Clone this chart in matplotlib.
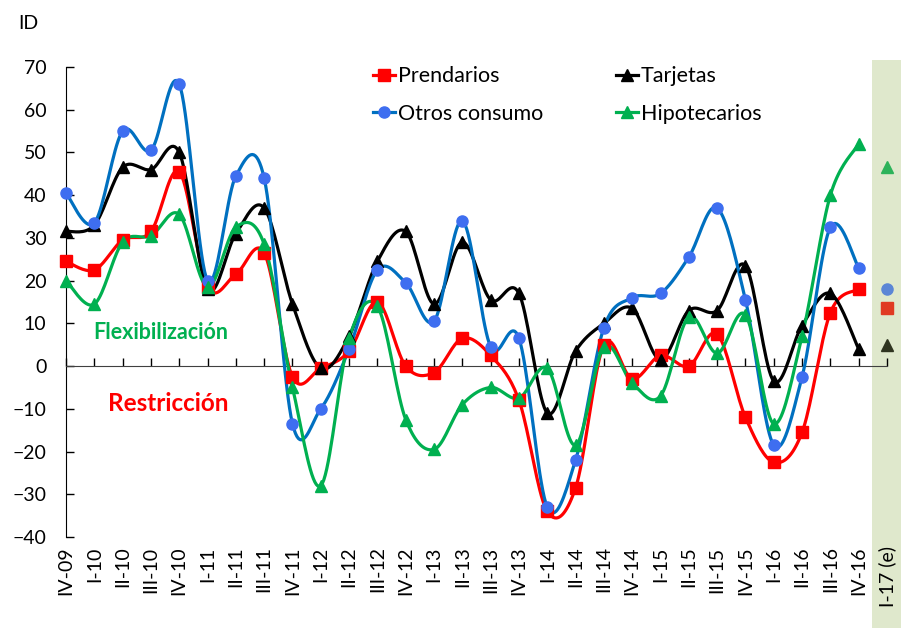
import numpy as np
import matplotlib
matplotlib.use("Agg")
import matplotlib.pyplot as plt
from matplotlib.transforms import blended_transform_factory

plt.rcParams['font.family'] = ['Lato', 'DejaVu Sans']

quarters = ['IV-09', 'I-10', 'II-10', 'III-10', 'IV-10', 'I-11', 'II-11', 'III-11',
            'IV-11', 'I-12', 'II-12', 'III-12', 'IV-12', 'I-13', 'II-13', 'III-13',
            'IV-13', 'I-14', 'II-14', 'III-14', 'IV-14', 'I-15', 'II-15', 'III-15',
            'IV-15', 'I-16', 'II-16', 'III-16', 'IV-16']
forecast_label = 'I-17 (e)'

prendarios = [24.5, 22.5, 29.5, 31.5, 45.5, 18.5, 21.5, 26.5, -2.5, -0.5,
              3.5, 15, 0, -1.5, 6.5, 2.5, -8, -34, -28.5, 5,
              -3, 2.5, 0, 7.5, -12, -22.5, -15.5, 12.5, 18]
tarjetas = [31.5, 33, 46.5, 46, 50, 18, 31, 37, 14.5, -0.5,
            7, 24.5, 31.5, 14.5, 29, 15.5, 17, -11, 3.5, 10,
            13.5, 1.5, 13, 13, 23.5, -3.5, 9.5, 17, 4]
otros = [40.5, 33.5, 55, 50.5, 66, 20, 44.5, 44, -13.5, -10,
         4, 22.5, 19.5, 10.5, 34, 4.5, 6.5, -33, -22, 9,
         16, 17, 25.5, 37, 15.5, -18.5, -2.5, 32.5, 23]
hipotecarios = [20, 14.5, 29, 30.5, 35.5, 18.5, 32.5, 28.5, -5, -28,
                6.5, 14, -12.5, -19.5, -9, -5, -7.5, -0.5, -18.5, 4.5,
                -4, -7, 11.5, 3, 12, -13.5, 7, 40, 52]

# I-17 estimates
est_prendarios = 13.5
est_tarjetas = 5
est_otros = 18
est_hipotecarios = 46.5


def smooth(y, n=20):
    # excel-like smoothed line (bezier, control points at 1/6 of neighbour diff)
    y = np.asarray(y, float)
    x = np.arange(len(y), dtype=float)
    pts = np.column_stack([x, y])
    ext = np.vstack([pts[0], pts, pts[-1]])
    out = []
    t = np.linspace(0, 1, n)[:, None]
    for i in range(len(pts) - 1):
        p0, p1, p2, p3 = ext[i], ext[i + 1], ext[i + 2], ext[i + 3]
        c1 = p1 + (p2 - p0) / 6
        c2 = p2 - (p3 - p1) / 6
        seg = ((1 - t) ** 3 * p1 + 3 * (1 - t) ** 2 * t * c1
               + 3 * (1 - t) * t ** 2 * c2 + t ** 3 * p2)
        out.append(seg if i == 0 else seg[1:])
    out = np.vstack(out)
    return out[:, 0], out[:, 1]


fig = plt.figure(figsize=(9.01, 6.28), dpi=100)
ax = fig.add_axes([66 / 901, 1 - 537 / 628, (887 - 66) / 901, (537 - 67) / 628])

n = len(quarters)   # index of the estimate quarter
ax.set_xlim(0, n)
ax.set_ylim(-40, 70)

# shaded band for the estimate quarter (runs past the axes down to the figure edge)
ax.axvspan(n - 0.53, n + 0.7, ymin=-0.2, ymax=(537 - 60) / 470, facecolor='#dfe8cc',
           edgecolor='none', clip_on=False, zorder=0)

series = [
    (prendarios, 'Prendarios', '#ff0000', '#ff0000', 's'),
    (tarjetas, 'Tarjetas', 'black', 'black', '^'),
    (otros, 'Otros consumo', '#0070c0', '#3e6ef0', 'o'),
    (hipotecarios, 'Hipotecarios', '#00b050', '#00b050', '^'),
]
x = np.arange(n)
handles = {}
for vals, name, lc, mc, mk in series:
    sx, sy = smooth(vals)
    ax.plot(sx, sy, color=lc, lw=2.3, zorder=3)
    ax.plot(x, vals, ls='none', marker=mk, color=mc, ms=8, zorder=4, clip_on=False)
    handles[name], = ax.plot([], [], color=lc, lw=2.3, marker=mk, mfc=mc, mec=mc,
                             ms=8, label=name)

ax.plot([n], [est_hipotecarios], marker='^', color='#2db35a', ms=8, clip_on=False, zorder=4)
ax.plot([n], [est_otros], marker='o', color='#5b86d6', ms=8, clip_on=False, zorder=4)
ax.plot([n], [est_prendarios], marker='s', color='#e03a22', ms=8, clip_on=False, zorder=4)
ax.plot([n], [est_tarjetas], marker='^', color='#2f3420', ms=8, clip_on=False, zorder=4)

ax.set_yticks(range(-40, 71, 10))
ax.set_xticks(range(n + 1))
ax.set_xticklabels([])
ax.tick_params(axis='y', direction='in', length=6, labelsize=14, pad=14, width=1)
ax.tick_params(axis='x', direction='in', length=6, width=1)
ax.spines['bottom'].set_position(('data', 0))
ax.spines['top'].set_visible(False)
ax.spines['right'].set_visible(False)
ax.spines['bottom'].set_color('#404040')

# x labels below the plot area
offset = blended_transform_factory(ax.transData, ax.transAxes)
for xi, lab in enumerate(quarters + [forecast_label]):
    ax.text(xi, -0.02, lab, transform=offset, rotation=90,
            ha='center', va='top', fontsize=14)

ax.text(-0.058, 1.081, 'ID', transform=ax.transAxes, fontsize=14, va='baseline')
ax.text(0.95, 7.8, 'Flexibilización', color='#00b050', fontsize=15.5, fontweight='bold',
        va='center')
ax.text(1.5, -8.8, 'Restricción', color='#ff0000', fontsize=17.5, fontweight='bold',
        va='center')

order = ['Prendarios', 'Otros consumo', 'Tarjetas', 'Hipotecarios']
ax.legend([handles[k] for k in order], order, loc='upper left',
          bbox_to_anchor=(0.374, 1.0015), ncol=2, frameon=False, borderpad=0,
          borderaxespad=0, fontsize=15.5, handlelength=1.0, handletextpad=0.15,
          columnspacing=3.4, labelspacing=0.8)

fig.savefig('out.png', dpi=100)
